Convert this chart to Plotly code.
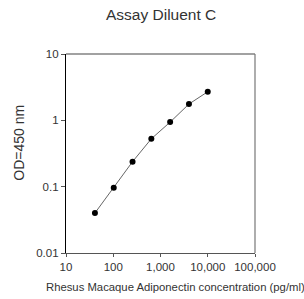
import plotly.graph_objects as go

concentration = [40.96, 102.4, 256, 640, 1600, 4000, 10000]
od450 = [0.040, 0.096, 0.238, 0.527, 0.94, 1.76, 2.70]

x_tickvals = [10, 100, 1000, 10000, 100000]
x_ticktext = ["10", "100", "1,000", "10,000", "100,000"]
y_tickvals = [0.01, 0.1, 1, 10]
y_ticktext = ["0.01", "0.1", "1", "10"]

font_family = "Liberation Sans, Arial, sans-serif"
text_color = "#333333"

fig = go.Figure()
fig.add_trace(go.Scatter(
    x=concentration, y=od450, mode="lines+markers",
    line=dict(color="#666666", width=1),
    marker=dict(color="black", size=6, symbol="circle"),
    showlegend=False,
))

fig.update_layout(
    width=304, height=299,
    margin=dict(l=65.5, r=48.5, t=54, b=46),
    paper_bgcolor="white", plot_bgcolor="white",
    font=dict(family=font_family, size=11, color=text_color),
    title=dict(text="Assay Diluent C", x=0.53, xanchor="center", y=0.95, yanchor="middle",
               font=dict(size=15.5, color=text_color)),
    xaxis=dict(type="log", range=[1, 5], tickvals=x_tickvals, ticktext=x_ticktext,
               showgrid=False, zeroline=False, showline=True, linecolor="#555555", linewidth=1.2,
               ticks="outside", ticklen=3, tickcolor="#555555", tickfont=dict(size=11.5),
               mirror=False),
    yaxis=dict(type="log", range=[-2, 1], tickvals=y_tickvals, ticktext=y_ticktext,
               showgrid=False, zeroline=False, showline=True, linecolor="black", linewidth=1.2,
               ticks="outside", ticklen=4, tickcolor="#555555", tickfont=dict(size=11.5)),
    shapes=[
        dict(type="line", xref="paper", yref="paper", x0=0, x1=1, y0=1, y1=1,
             line=dict(color="#444444", width=1.2)),
        dict(type="line", xref="paper", yref="paper", x0=1, x1=1, y0=0, y1=1,
             line=dict(color="#777777", width=1.2)),
    ],
    annotations=[
        dict(text="Rhesus Macaque Adiponectin concentration (pg/ml)", xref="paper", yref="paper",
             x=0.579, y=-0.171, xanchor="center", yanchor="middle", showarrow=False,
             font=dict(size=11.3, color=text_color)),
        dict(text="OD=450 nm", xref="paper", yref="paper", textangle=-90,
             x=-0.25, y=0.553, xanchor="center", yanchor="middle", showarrow=False,
             font=dict(size=14, color=text_color)),
    ],
)

fig.write_html("out.html", config={"displayModeBar": False},
               post_script="document.body.style.margin='0px';")
